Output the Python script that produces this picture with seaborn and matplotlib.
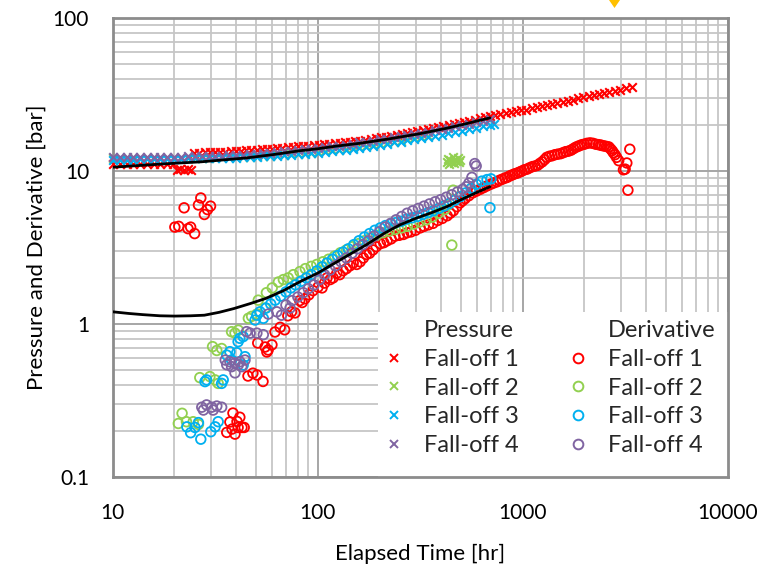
import numpy as np
import matplotlib
matplotlib.use("Agg")
import matplotlib.pyplot as plt
from matplotlib.lines import Line2D
from matplotlib.patches import Polygon, Rectangle
from matplotlib.ticker import LogLocator, NullFormatter
import seaborn as sns

sns.set_theme(style="white")
plt.rcParams["font.family"] = ["Lato", "DejaVu Sans"]

# ---------------------------------------------------------------- data
series_names = ["Fall-off 1", "Fall-off 2", "Fall-off 3", "Fall-off 4"]
series_colors = ["#FF0000", "#92D050", "#00B0F0", "#8064A2"]

x_ticks = [10, 100, 1000, 10000]
x_tick_labels = ["10", "100", "1000", "10000"]
y_ticks = [0.1, 1, 10, 100]
y_tick_labels = ["0.1", "1", "10", "100"]

# logged sample times shared by fall-offs 2-4 [hr]
t_base = [10.0, 10.8, 11.7, 12.6, 13.6, 14.7, 15.9, 17.1, 18.5, 20.0,
          21.6, 23.3, 25.2, 27.2, 29.4, 31.7, 34.3, 37.0, 40.0, 43.2,
          46.6, 50.3, 54.4, 58.7, 63.4, 68.5, 74.0, 79.9, 86.3, 93.2,
          100.6, 108.7, 117.4, 126.8, 136.9, 147.9, 159.7, 172.5, 186.3, 201.2,
          217.3, 234.7, 253.5, 273.7, 295.6, 319.3, 344.8, 372.4, 402.2, 434.4,
          469.1, 506.6, 547.2, 591.0, 638.2, 689.3, 728.0]

# Fall-off 1 pressure
p1_t = [10.0, 10.8, 11.7, 12.6, 13.6, 14.7, 15.9, 17.1, 18.5, 19.6,
        20.6, 21.4, 22.3, 23.2, 24.1,
        25.0, 26.5, 28.1, 29.8, 31.6, 33.5, 35.5, 37.6, 39.8, 42.2,
        44.8, 47.4, 50.3, 53.3, 56.5, 59.9, 63.5, 67.3, 71.3, 75.6,
        80.1, 84.9, 90.0, 95.4, 101, 107, 114, 121, 128, 136,
        144, 152, 161, 171, 181, 192, 204, 216, 229, 243,
        257, 273, 289, 306, 325, 344, 365, 387, 410, 435,
        461, 488, 518, 549, 582, 617, 654, 693, 734, 778,
        825, 875, 927, 983, 1042, 1104, 1171, 1241, 1315, 1394,
        1478, 1567, 1661, 1760, 1866, 1978, 2097, 2222, 2356, 2497,
        2647, 2806, 2974, 3180, 3420]
p1_v = [11.2, 11.2, 11.2, 11.2, 11.2, 11.2, 11.2, 11.2, 11.2, 11.2,
        10.2, 10.3, 10.2, 10.3, 10.2,
        13.2, 13.2, 13.3, 13.3, 13.3, 13.4, 13.4, 13.5, 13.6, 13.6,
        13.7, 13.7, 13.8, 13.9, 13.9, 14.0, 14.1, 14.2, 14.3, 14.4,
        14.5, 14.6, 14.7, 14.8, 14.9, 15.0, 15.1, 15.2, 15.3, 15.5,
        15.6, 15.7, 15.8, 16.0, 16.2, 16.4, 16.6, 16.8, 17.0, 17.2,
        17.4, 17.7, 17.9, 18.2, 18.5, 18.8, 19.1, 19.4, 19.7, 20.0,
        20.3, 20.6, 21.0, 21.3, 21.7, 22.1, 22.5, 22.8, 23.2, 23.5,
        23.9, 24.2, 24.6, 25.0, 25.3, 25.7, 26.1, 26.6, 27.0, 27.5,
        27.9, 28.4, 28.9, 29.4, 29.9, 30.4, 30.9, 31.4, 31.9, 32.5,
        33.0, 33.6, 34.2, 34.8, 35.4]

# Fall-off 2 pressure
p2_t = t_base[:47] + [425, 431, 437, 443, 449, 455, 461, 467, 474, 481, 488, 495]
p2_v = [12.1, 12.1, 12.1, 12.1, 12.1, 12.1, 12.1, 12.1, 12.1, 12.1,
        12.1, 12.2, 12.2, 12.2, 12.2, 12.3, 12.3, 12.3, 12.3, 12.4,
        12.4, 12.5, 12.6, 12.6, 12.7, 12.8, 12.9, 13.0, 13.1, 13.2,
        13.4, 13.5, 13.7, 13.8, 14.0, 14.2, 14.4, 14.6, 14.8, 15.1,
        15.3, 15.6, 15.8, 16.1, 16.4, 16.7, 16.9,
        11.4, 12.0, 11.2, 11.8, 11.5, 12.3, 11.3, 11.9, 11.6, 12.1, 11.4, 11.8]

# Fall-off 3 pressure
p3_t = t_base
p3_v = [11.9, 11.9, 11.9, 11.9, 12.0, 12.0, 12.0, 12.0, 12.0, 12.0,
        12.0, 12.1, 12.1, 12.1, 12.1, 12.2, 12.2, 12.2, 12.2, 12.3,
        12.3, 12.4, 12.5, 12.5, 12.6, 12.7, 12.8, 12.9, 13.0, 13.1,
        13.2, 13.4, 13.5, 13.7, 13.8, 14.0, 14.2, 14.4, 14.6, 14.9,
        15.1, 15.4, 15.6, 15.9, 16.2, 16.4, 16.7, 17.0, 17.3, 17.7,
        18.0, 18.4, 18.8, 19.2, 19.6, 20.0, 20.2]

# Fall-off 4 pressure
p4_t = t_base[:56]
p4_v = [12.4, 12.4, 12.4, 12.4, 12.4, 12.4, 12.4, 12.4, 12.4, 12.4,
        12.4, 12.5, 12.5, 12.5, 12.6, 12.6, 12.6, 12.7, 12.7, 12.8,
        12.9, 13.0, 13.1, 13.2, 13.3, 13.5, 13.6, 13.8, 13.9, 14.0,
        14.2, 14.3, 14.5, 14.7, 14.9, 15.1, 15.4, 15.6, 15.8, 16.1,
        16.3, 16.6, 16.9, 17.2, 17.5, 17.8, 18.1, 18.5, 18.8, 19.2,
        19.6, 20.0, 20.4, 20.9, 21.4, 21.9]

# Fall-off 1 derivative
d1_t = [20.1, 21.0, 22.3, 23.3, 24.0, 25.1, 26.2, 26.9, 28.0, 29.0, 30.0,
        36.0, 37.3, 38.6, 39.5, 40.4, 41.7, 42.7, 43.8, 38.2, 40.9,
        45.7, 48.3, 50.6, 54.1,
        51.0, 55.4, 57.3, 59.8, 56.5,
        61.9, 65.6, 69.0,
        71.5, 74.5, 77.5, 81.7, 84.0, 86.6, 90.5, 94.8, 100.3, 105,
        108, 111, 115, 118.8, 124, 128, 133, 138, 143.6, 149,
        155, 161, 167, 173, 179, 186, 193, 202, 210, 218,
        228, 238, 250, 262, 273, 285, 300, 316, 330, 347,
        365, 385, 405, 428, 443, 459, 477, 495, 509, 523,
        546, 570, 595, 620, 645, 670, 697, 720, 747, 770,
        795, 820, 840, 865, 890, 915, 940, 965, 990, 1020,
        1050, 1080, 1115, 1150, 1180, 1210, 1245, 1280, 1310, 1350,
        1390, 1435, 1480, 1530, 1575, 1620, 1670, 1720, 1765, 1810,
        1855, 1900, 1950, 2000, 2060, 2130, 2200, 2270, 2340, 2400,
        2440, 2500, 2560, 2630, 2680, 2730, 2770, 2820, 2870, 2940,
        3100, 3160, 3220, 3330, 3260]
d1_v = [4.3, 4.35, 5.75, 4.2, 4.3, 3.9, 6.0, 6.67, 5.2, 5.6, 5.9,
        0.195, 0.228, 0.261, 0.19, 0.23, 0.245, 0.21, 0.21, 0.205, 0.21,
        0.456, 0.476, 0.463, 0.42,
        0.75, 0.706, 0.675, 0.73, 0.655,
        0.885, 0.95, 0.915,
        1.13, 1.2, 1.18, 1.42, 1.38, 1.46, 1.55, 1.65, 1.74, 1.72,
        1.85, 2.0, 1.95, 2.0, 2.15, 2.1, 2.23, 2.3, 2.4, 2.5,
        2.45, 2.55, 2.7, 2.85, 2.9, 3.05, 3.2, 3.35, 3.4, 3.5,
        3.6, 3.75, 3.8, 3.85, 3.95, 4.0, 4.1, 4.25, 4.35, 4.45,
        4.55, 4.75, 4.9, 5.1, 5.3, 5.5, 5.85, 6.2, 6.4, 6.6,
        6.9, 7.2, 7.4, 7.6, 7.8, 8.0, 8.2, 8.35, 8.5, 8.7,
        8.85, 9.0, 9.1, 9.3, 9.45, 9.6, 9.7, 9.85, 10.0, 10.2,
        10.3, 10.5, 10.7, 10.8, 10.9, 11.2, 11.5, 11.9, 12.3, 12.5,
        12.6, 12.8, 12.9, 13.0, 13.2, 13.4, 13.5, 13.7, 14.0, 14.3,
        14.5, 14.7, 14.9, 15.0, 15.2, 15.3, 15.2, 15.0, 14.9, 14.8,
        14.7, 14.6, 14.5, 14.4, 14.0, 13.6, 13.2, 12.8, 12.3, 11.7,
        10.2, 10.3, 11.3, 13.9, 7.5]

# Fall-off 2 derivative
d2_t = [21.8, 20.9, 24.7, 22.9, 26.2,
        26.6, 29.8, 31.6, 32.7,
        30.7, 34.0, 32.2,
        38.0, 41.0, 39.5,
        45.9, 50.5, 55.5, 47.6,
        51.3, 56.2, 60.0, 64.3, 68.0, 71.8, 76.0, 81.9, 87.0, 93.0,
        99.0, 106, 113, 121, 129, 138, 148, 158, 169, 181,
        194, 208, 223, 239, 256, 274, 294, 315, 338, 362,
        388, 416, 430, 451, 458]
d2_v = [0.26, 0.223, 0.229, 0.229, 0.22,
        0.445, 0.452, 0.43, 0.408,
        0.71, 0.69, 0.67,
        0.889, 0.91, 0.87,
        1.088, 1.16, 1.27, 1.12,
        1.43, 1.6, 1.72, 1.88, 1.95, 2.0, 2.1, 2.2, 2.3, 2.38,
        2.45, 2.55, 2.65, 2.78, 2.92, 3.05, 3.2, 3.35, 3.5, 3.65,
        3.8, 3.95, 4.05, 4.15, 4.25, 4.35, 4.5, 4.65, 4.8, 5.0,
        5.3, 5.6, 6.0, 3.28, 7.5]

# Fall-off 3 derivative
d3_t = [23.0, 24.0, 26.2, 26.9, 30.1, 31.6, 32.7, 25.2,
        28.2, 34.0, 34.6, 28.7,
        37.3, 40.3, 44.2, 36.0, 43.3, 38.0,
        41.7, 43.3, 40.9,
        52.3, 54.3, 49.5, 50.5,
        56, 59, 62, 66, 70, 74, 78, 83, 88, 93,
        99, 105, 111, 118, 125, 133, 141, 150, 159, 169,
        179, 190, 202, 214, 227, 241, 256, 272, 289, 307,
        326, 346, 367, 390, 414, 440, 467, 496, 527, 560,
        595, 632, 670, 700, 692]
d3_v = [0.212, 0.194, 0.226, 0.176, 0.197, 0.212, 0.229, 0.21,
        0.419, 0.408, 0.43, 0.43,
        0.658, 0.648, 0.61, 0.625, 0.538, 0.58,
        0.805, 0.825, 0.765,
        1.2, 1.088, 1.06, 1.14,
        1.27, 1.35, 1.43, 1.52, 1.62, 1.72, 1.8, 1.9, 2.0, 2.1,
        2.22, 2.36, 2.5, 2.65, 2.8, 2.95, 3.1, 3.3, 3.5, 3.7,
        3.9, 4.1, 4.25, 4.4, 4.5, 4.6, 4.7, 4.85, 4.95, 5.05,
        5.2, 5.35, 5.5, 5.7, 5.9, 6.15, 6.45, 6.8, 7.2, 7.7,
        8.2, 8.6, 8.8, 8.9, 5.76]

# Fall-off 4 derivative
d4_t = [27.2, 28.7, 30.4, 32.2, 34.0, 27.7, 30.9,
        35.4, 37.3, 39.5, 41.7, 44.2, 39.5, 38.0, 42.6, 36.0, 41.0,
        46.8, 50.5, 54.3, 45.0,
        57.4, 63.2, 66.6, 73.3,
        70, 75, 80, 85, 90, 96, 102, 108, 115, 122,
        130, 138, 147, 156, 166, 177, 188, 200, 213, 227,
        241, 257, 273, 291, 310, 330, 351, 374, 398, 424,
        451, 480, 510, 530, 547, 565, 584, 593]
d4_v = [0.285, 0.295, 0.285, 0.29, 0.285, 0.273, 0.273,
        0.58, 0.565, 0.555, 0.565, 0.58, 0.478, 0.525, 0.525, 0.54, 0.54,
        0.87, 0.87, 0.85, 0.89,
        1.16, 1.2, 1.14, 1.27,
        1.33, 1.42, 1.5, 1.6, 1.7, 1.8, 1.95, 2.1, 2.25, 2.4,
        2.55, 2.7, 2.9, 3.1, 3.3, 3.5, 3.75, 4.0, 4.3, 4.55,
        4.8, 5.05, 5.3, 5.5, 5.7, 5.9, 6.1, 6.3, 6.5, 6.75,
        7.0, 7.3, 7.6, 7.9, 8.36, 9.1, 11.2, 10.8]

# model match: pressure and derivative
m_p_t = [10, 13, 17, 20, 27, 35, 45, 60, 82, 100, 120, 160, 220, 310, 420, 520, 600, 692]
m_p_v = [10.6, 10.85, 11.1, 11.25, 11.5, 11.85, 12.2, 12.8, 13.6, 14.0, 14.5, 15.2,
         16.2, 17.5, 19.0, 20.3, 21.3, 22.3]
m_d_t = [10, 12, 14, 17, 20, 24, 28, 33, 39, 47, 56, 68, 82, 100, 118, 140, 173,
         210, 252, 300, 360, 426, 500, 590, 692]
m_d_v = [1.20, 1.17, 1.15, 1.13, 1.125, 1.13, 1.14, 1.19, 1.26, 1.36, 1.47, 1.65,
         1.89, 2.15, 2.45, 2.8, 3.3, 3.9, 4.45, 4.9, 5.35, 5.85, 6.5, 7.2, 7.9]

pressure_data = [(p1_t, p1_v), (p2_t, p2_v), (p3_t, p3_v), (p4_t, p4_v)]
derivative_data = [(d1_t, d1_v), (d2_t, d2_v), (d3_t, d3_v), (d4_t, d4_v)]

# ---------------------------------------------------------------- figure
W, H = 771, 566
fig = plt.figure(figsize=(W / 100, H / 100), dpi=100)
ax_l, ax_r, ax_t, ax_b = 112.7, 727.7, 18.3, 476.7
ax = fig.add_axes([ax_l / W, 1 - ax_b / H, (ax_r - ax_l) / W, (ax_b - ax_t) / H])
ax.set_xscale("log")
ax.set_yscale("log")

for (t, v), col in zip(pressure_data, series_colors):
    sns.scatterplot(x=t, y=v, ax=ax, marker="x", color=col, s=38,
                    linewidth=1.5, zorder=3, legend=False, clip_on=False)

for (t, v), col in zip(derivative_data, series_colors):
    sns.scatterplot(x=t, y=v, ax=ax, marker="o", color=col, facecolor="none",
                    edgecolor=col, s=48, linewidth=1.3, zorder=3,
                    legend=False, clip_on=False)

sns.lineplot(x=m_p_t, y=m_p_v, ax=ax, color="black", lw=2.0, zorder=4,
             estimator=None, legend=False)
sns.lineplot(x=m_d_t, y=m_d_v, ax=ax, color="black", lw=2.0, zorder=4,
             estimator=None, legend=False)

ax.set_xlim(10, 10000)
ax.set_ylim(0.1, 100)
ax.set_xticks(x_ticks, labels=x_tick_labels)
ax.set_yticks(y_ticks, labels=y_tick_labels)
ax.xaxis.set_minor_locator(LogLocator(base=10, subs=np.arange(2, 10)))
ax.yaxis.set_minor_locator(LogLocator(base=10, subs=np.arange(2, 10)))
ax.xaxis.set_minor_formatter(NullFormatter())
ax.yaxis.set_minor_formatter(NullFormatter())

ax.set_axisbelow(True)
ax.grid(which="major", color="#a6a6a6", lw=1.4)
ax.grid(which="minor", color="#c6c6c6", lw=1.3)
ax.tick_params(which="both", length=0)
ax.tick_params(axis="x", labelsize=15, pad=19, colors="black")
ax.tick_params(axis="y", labelsize=15, pad=17, colors="black")
for sp in ax.spines.values():
    sp.set_color("#8c8c8c")
    sp.set_linewidth(2)

ax.set_xlabel("Elapsed Time [hr]", fontsize=16, labelpad=15, color="black")
ax.set_ylabel("Pressure and Derivative [bar]", fontsize=16, labelpad=4, color="black")

# white legend panel in the lower right corner of the plot area
box_l, box_t = 378, 312
ax.add_patch(Rectangle(((box_l - ax_l) / (ax_r - ax_l), 0),
                       1 - (box_l - ax_l) / (ax_r - ax_l),
                       (ax_b - box_t) / (ax_b - ax_t),
                       transform=ax.transAxes, facecolor="white",
                       edgecolor="none", zorder=1))

# two-column legend with header rows
blank = Line2D([], [], linestyle="none", marker="")
hx = [Line2D([], [], linestyle="none", marker="x", color=c, ms=6, mew=1.4)
      for c in series_colors]
ho = [Line2D([], [], linestyle="none", marker="o", mfc="none", mec=c, ms=7, mew=1.4)
      for c in series_colors]
handles = [blank] + hx + [blank] + ho
labels = ["Pressure"] + series_names + ["Derivative"] + series_names
leg_x = (382 - ax_l) / (ax_r - ax_l)
leg_y = (ax_b - 320) / (ax_b - ax_t)
leg = ax.legend(handles, labels, ncol=2, loc="upper left", bbox_to_anchor=(leg_x, leg_y),
                borderaxespad=0, borderpad=0, frameon=False, fontsize=17,
                handlelength=1.0, handletextpad=0.78, columnspacing=2.0,
                labelspacing=0.33)
leg.set_zorder(5)

# small marker pin above the plot frame
fig.patches.append(Polygon([[609 / W, 1.0], [620 / W, 1.0], [614.5 / W, 1 - 8 / H]],
                           closed=True, transform=fig.transFigure,
                           facecolor="#FFC000", edgecolor="none"))

fig.savefig("out.png", dpi=100)
